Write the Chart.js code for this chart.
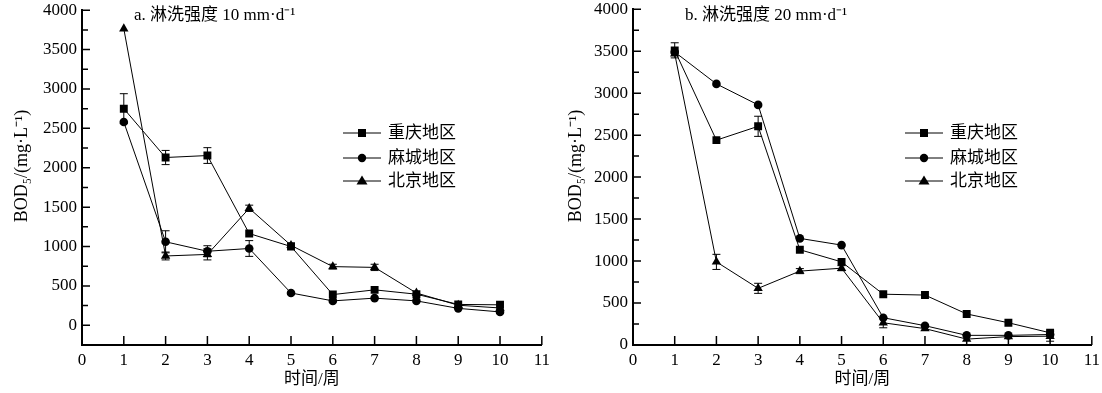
<!DOCTYPE html>
<html><head><meta charset="utf-8">
<script src="https://cdn.jsdelivr.net/npm/chart.js@4.4.1/dist/chart.umd.min.js"></script>
<style>
html,body{margin:0;padding:0;background:#fff;overflow:hidden;}
#wrap{position:relative;width:1102px;height:393px;overflow:hidden;}
.box{position:absolute;}
</style></head><body>
<div id="wrap">
<div class="box" style="left:0;top:-5px;width:555px;height:398px"><canvas id="c1"></canvas></div>
<div class="box" style="left:551px;top:-6px;width:554px;height:399px"><canvas id="c2"></canvas></div>
</div>
<script>
const weeks = [1,2,3,4,5,6,7,8,9,10];
const seriesNames = ['重庆地区','麻城地区','北京地区'];
const pointStyles = ['rect','circle','triangle'];
const xTicks = [0,1,2,3,4,5,6,7,8,9,10,11];
const yTicks = [0,500,1000,1500,2000,2500,3000,3500,4000];
const yMinor = [250,750,1250,1750,2250,2750,3250,3750];
const yTitle = 'BOD₅/(mg·L⁻¹)';
const xTitle = '时间/周';

// Panel a: 10 mm·d-1
const aCQ = [2750,2130,2155,1165,1000,390,450,395,265,260];
const aCQErr = [190,90,100,0,0,0,0,0,0,0];
const aMC = [2580,1060,940,975,410,310,345,310,215,170];
const aMCErr = [0,140,70,100,0,0,0,0,0,0];
const aBJ = [3765,880,900,1485,1015,745,735,410,255,220];
const aBJErr = [0,50,70,40,30,30,40,0,0,0];

// Panel b: 20 mm·d-1
const bCQ = [3510,2440,2605,1135,990,605,595,370,265,145];
const bCQErr = [90,0,120,0,0,0,0,0,0,0];
const bMC = [3490,3110,2860,1270,1190,325,230,115,115,125];
const bMCErr = [0,0,0,0,0,0,0,0,0,0];
const bBJ = [3470,990,675,880,915,265,195,70,100,105];
const bBJErr = [0,90,60,30,30,60,0,0,0,60];

const serif = "'Liberation Serif','Noto Sans CJK SC',serif";

function makeChart(id, title, vals, errs, yMin, dy, yTitleX){
  const radii = [5.6,4.3,5.4];
  const datasets = vals.map((v,i)=>({
    label: seriesNames[i],
    data: weeks.map((w,k)=>({x:w,y:v[k]})),
    errs: errs[i],
    borderColor:'#000', backgroundColor:'#000', borderWidth:1,
    pointStyle: pointStyles[i], pointRadius: radii[i], pointBorderWidth:0,
    pointBackgroundColor:'#000', tension:0
  }));
  const deco = {
    id:'deco',
    beforeDatasetsDraw(chart){
      const ctx = chart.ctx, xs = chart.scales.x, ys = chart.scales.y;
      ctx.save(); ctx.strokeStyle='#000'; ctx.lineWidth=1;
      chart.data.datasets.forEach(ds=>{
        ds.data.forEach((p,k)=>{
          const e = ds.errs[k]; if(!e) return;
          const x = xs.getPixelForValue(p.x);
          const y1 = ys.getPixelForValue(p.y+e), y2 = ys.getPixelForValue(p.y-e);
          ctx.beginPath();
          ctx.moveTo(x,y1); ctx.lineTo(x,y2);
          ctx.moveTo(x-4,y1); ctx.lineTo(x+4,y1);
          ctx.moveTo(x-4,y2); ctx.lineTo(x+4,y2);
          ctx.stroke();
        });
      });
      ctx.restore();
    },
    afterDraw(chart){
      const ctx = chart.ctx, xs = chart.scales.x, ys = chart.scales.y, ca = chart.chartArea;
      ctx.save(); ctx.strokeStyle='#000'; ctx.lineWidth=1.5;
      ctx.beginPath();
      xTicks.forEach(v=>{const x=xs.getPixelForValue(v); ctx.moveTo(x,ca.bottom); ctx.lineTo(x,ca.bottom-9);});
      yTicks.forEach(v=>{const y=ys.getPixelForValue(v); ctx.moveTo(ca.left,y); ctx.lineTo(ca.left+8,y);});
      yMinor.forEach(v=>{const y=ys.getPixelForValue(v); ctx.moveTo(ca.left,y); ctx.lineTo(ca.left+6,y);});
      ctx.stroke();
      ctx.lineWidth=1;
      ctx.fillStyle='#000'; ctx.textBaseline='middle'; ctx.textAlign='left';
      // panel title
      ctx.font = "17px "+serif;
      ctx.fillText(title, ca.left+52, 16+dy);
      // y axis title
      ctx.save();
      ctx.translate(yTitleX, 166+dy); ctx.rotate(-Math.PI/2);
      ctx.textAlign='center'; ctx.font = "18px "+serif;
      ctx.fillText(yTitle, 0, 0);
      ctx.restore();
      // legend
      const lx = ca.left + (id==='c1'?261:272), ly = [133+dy,158+dy,181+dy];
      chart.data.datasets.forEach((ds,i)=>{
        const y = ly[i];
        ctx.beginPath(); ctx.moveTo(lx,y); ctx.lineTo(lx+38,y); ctx.stroke();
        const cx = lx+19;
        ctx.beginPath();
        if(i===0){ ctx.rect(cx-4,y-4,8,8); }
        else if(i===1){ ctx.arc(cx,y,4.2,0,Math.PI*2); }
        else { ctx.moveTo(cx,y-5.5); ctx.lineTo(cx+5.5,y+3.5); ctx.lineTo(cx-5.5,y+3.5); ctx.closePath(); }
        ctx.fill();
        ctx.font = "17px "+serif;
        ctx.fillText(ds.label, lx+45, y+1);
      });
      ctx.restore();
    }
  };
  return new Chart(document.getElementById(id),{
    type:'line',
    data:{datasets},
    plugins:[deco],
    options:{
      responsive:true, maintainAspectRatio:false, animation:false,
      layout:{padding:{top:0,right:0,left:0,bottom:0}},
      plugins:{legend:{display:false},tooltip:{enabled:false}},
      scales:{
        x:{type:'linear',min:0,max:11,
          afterBuildTicks(s){s.ticks = xTicks.map(v=>({value:v}));},
          afterFit(s){s.height=48;},
          grid:{display:false,drawTicks:false},
          border:{display:true,color:'#000',width:2},
          ticks:{color:'#000',padding:5,font:{family:serif,size:17},maxRotation:0,autoSkip:false,callback:v=>String(v)},
          title:{display:true,text:xTitle,color:'#000',font:{family:serif,size:17},padding:{top:0,bottom:3}}
        },
        y:{type:'linear',min:yMin,max:4000,
          afterBuildTicks(s){s.ticks = yTicks.map(v=>({value:v}));},
          afterFit(s){s.width=82;},
          grid:{display:false,drawTicks:false},
          border:{display:true,color:'#000',width:2},
          ticks:{color:'#000',padding:5,font:{family:serif,size:17},autoSkip:false,callback:v=>String(v)}
        }
      }
    }
  });
}

makeChart('c1','a. 淋洗强度 10 mm·d⁻¹',[aCQ,aMC,aBJ],[aCQErr,aMCErr,aBJErr],-250,5,22);
makeChart('c2','b. 淋洗强度 20 mm·d⁻¹',[bCQ,bMC,bBJ],[bCQErr,bMCErr,bBJErr],0,6,25);
</script>
</body></html>
